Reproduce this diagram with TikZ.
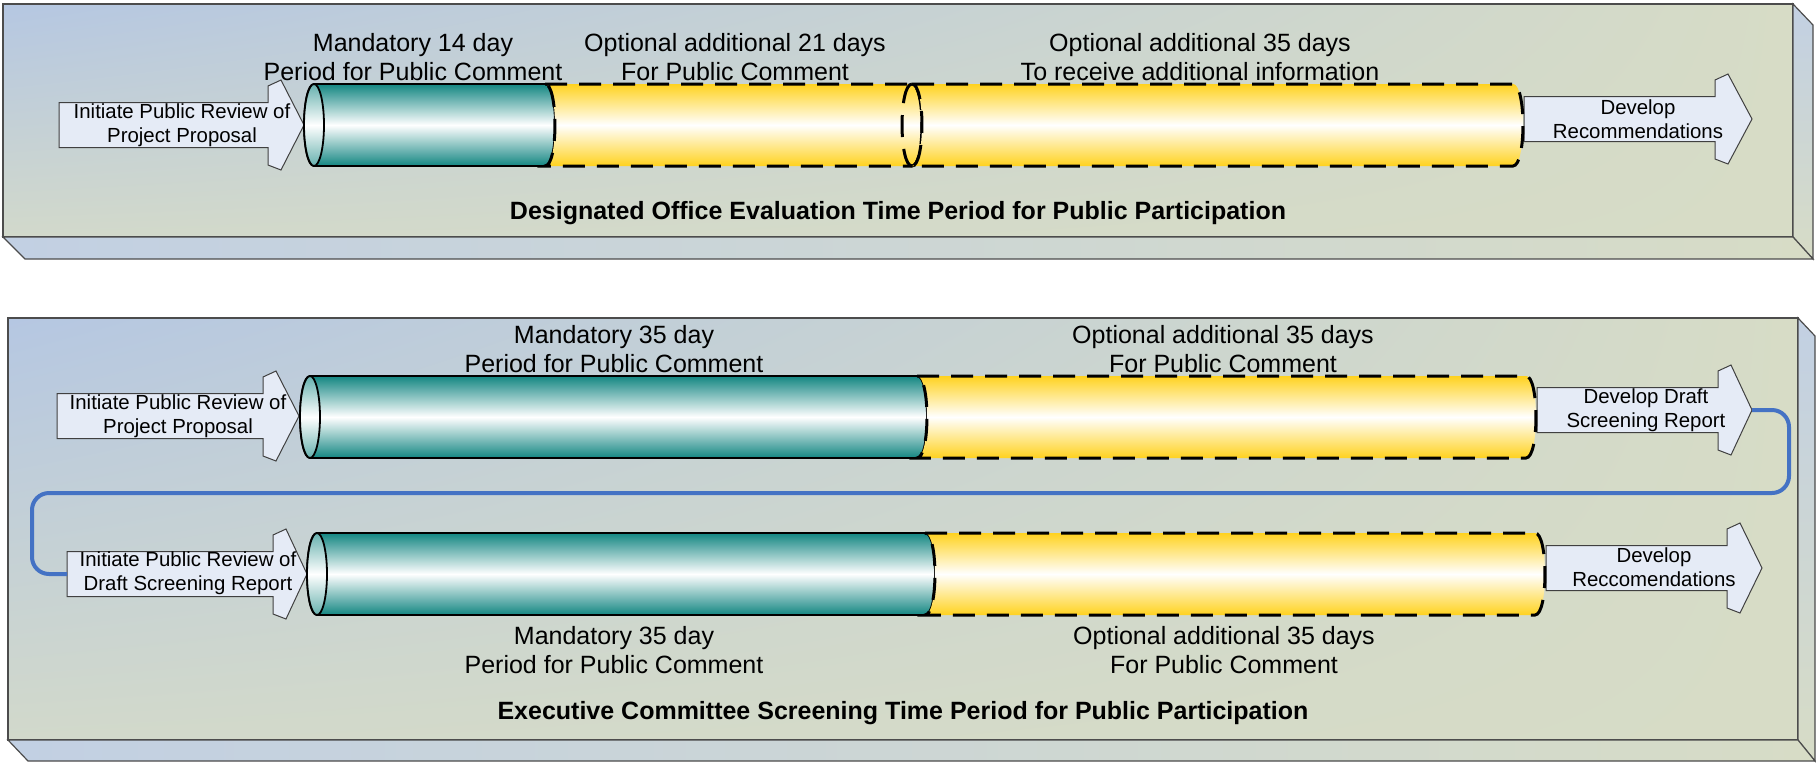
\documentclass[tikz,border=0pt]{standalone}
\usepackage{fontspec}
\setmainfont{Liberation Sans}
\usetikzlibrary{positioning,shadings}

\definecolor{tealdark}{HTML}{138682}
\definecolor{gold}{HTML}{FFD21F}
\definecolor{arrowfill}{HTML}{E5EBF6}
\definecolor{linkblue}{HTML}{4472C4}
\definecolor{panelblue}{HTML}{B5C7E2}
\definecolor{panelsand}{HTML}{D7DCC6}
\definecolor{panelmid}{HTML}{D2D9CB}
\definecolor{sideblue}{HTML}{C2D0E3}

\tikzset{
  panelline/.style={draw=black!70, line width=0.6pt},
  arrowbox/.style={draw=black!75, line width=0.5pt, fill=arrowfill},
  arrowtext/.style={align=center, font=\fontsize{10.2}{12}\selectfont, inner sep=0pt},
  bigtext/.style={align=center, font=\fontsize{12.5}{14.5}\selectfont, inner sep=0pt},
  titletext/.style={font=\fontsize{12.5}{14.5}\selectfont\bfseries, inner sep=0pt},
  tealbody/.style={draw=black, line width=0.9pt, top color=tealdark, bottom color=tealdark, middle color=white},
  tealface/.style={draw=black, line width=0.9pt, top color=tealdark!65!white, bottom color=tealdark!65!white, middle color=white},
  goldline/.style={draw=black, line width=1.5pt, dash pattern=on 11pt off 6pt},
  goldbody/.style={goldline, top color=gold, bottom color=gold, middle color=white},
  link/.style={draw=linkblue, line width=2pt, rounded corners=8.5pt},
}

% tube pieces: left x, right x, centre y
\newcommand{\tealseg}[3]{%
  \path[tealbody] (#1,#3-41) -- (#2,#3-41)
    .. controls (#2+13.3,#3-41) and (#2+13.3,#3+41) .. (#2,#3+41)
    -- (#1,#3+41) .. controls (#1-13.3,#3+41) and (#1-13.3,#3-41) .. (#1,#3-41) -- cycle;
  \path[tealface] (#1,#3) ellipse [x radius=5pt, y radius=20.5pt];
}
\newcommand{\goldseg}[3]{%
  \path[goldbody] (#1,#3-41) -- (#2,#3-41)
    .. controls (#2+13.3,#3-41) and (#2+13.3,#3+41) .. (#2,#3+41)
    -- (#1,#3+41) .. controls (#1+13.3,#3+41) and (#1+13.3,#3-41) .. (#1,#3-41) -- cycle;
}
% block arrow: name, tail x, head x, tip x, centre y
\newcommand{\flowarrow}[5]{%
  \draw[arrowbox] (#2,#5-22.5) -- (#3,#5-22.5) -- (#3,#5-39) -- (#3+13,#5-45)
    -- (#4,#5) -- (#3+13,#5+45) -- (#3,#5+40) -- (#3,#5+22.5) -- (#2,#5+22.5) -- cycle;
  \coordinate (#1-tail) at (#2,#5);
  \coordinate (#1-tip) at (#4,#5);
}

\begin{document}
\begin{tikzpicture}[x=0.5pt, y=-0.5pt]
  \useasboundingbox (0,0) rectangle (1816,762);

  % designated office panel
  \shade[upper left=panelblue, upper right=panelsand, lower left=panelmid, lower right=panelsand] (3,4) rectangle (1793,237);
  \draw[panelline] (3,4) rectangle (1793,237);
  \draw[panelline, top color=sideblue, bottom color=panelsand] (1793,4) -- (1813,25) -- (1813,259) -- (1793,237) -- cycle;
  \draw[panelline, left color=sideblue, right color=panelsand] (3,237) -- (1793,237) -- (1813,259) -- (25,259) -- cycle;

  \flowarrow{initA}{59}{268}{304}{125}
  \flowarrow{devA}{1524}{1715}{1752}{119}
  \node[arrowtext] (initAtext) at (182,125) {Initiate Public Review of\\Project Proposal};
  \node[arrowtext] (devAtext) at (1638,119) {Develop\\Recommendations};

  \tealseg{314}{545}{125}
  \goldseg{545}{912}{125}
  \goldseg{912}{1513}{125}
  \draw[goldline] (912,84) .. controls (898.7,84) and (898.7,166) .. (912,166);

  \node[bigtext] (mandA) at (413,57) {Mandatory 14 day\\Period for Public Comment};
  \node[bigtext] (optA) at (735,57) {Optional additional 21 days\\For Public Comment};
  \node[bigtext] (optB) at (1200,57) {Optional additional 35 days\\To receive additional information};
  \node[titletext] (titleA) at (898,213) {Designated Office Evaluation Time Period for Public Participation};

  % executive committee panel
  \shade[upper left=panelblue, upper right=panelsand, lower left=panelmid, lower right=panelsand] (8,318) rectangle (1798,740);
  \draw[panelline] (8,318) rectangle (1798,740);
  \draw[panelline, top color=sideblue, bottom color=panelsand] (1798,318) -- (1815,336) -- (1815,761) -- (1798,740) -- cycle;
  \draw[panelline, left color=sideblue, right color=panelsand] (8,740) -- (1798,740) -- (1815,761) -- (28,761) -- cycle;

  \flowarrow{initB}{57}{263}{299}{416}
  \flowarrow{draft}{1537}{1718}{1752}{410}
  \flowarrow{initC}{67}{273}{307}{574}
  \flowarrow{devC}{1546}{1727}{1762}{568}

  \draw[link] (draft-tip) -| (1789,493) -| (32,574) -- (initC-tail);

  \node[arrowtext] (initBtext) at (178,416) {Initiate Public Review of\\Project Proposal};
  \node[arrowtext] (drafttext) at (1646,410) {Develop Draft\\Screening Report};
  \node[arrowtext] (initCtext) at (188,573) {Initiate Public Review of\\Draft Screening Report};
  \node[arrowtext] (devCtext) at (1654,567) {Develop\\Reccomendations};

  \tealseg{310}{917}{417}
  \goldseg{917}{1526}{417}
  \tealseg{317}{925}{574}
  \goldseg{925}{1535}{574}

  \node[bigtext] (mandB) at (614,349) {Mandatory 35 day\\Period for Public Comment};
  \node[bigtext] (optC) at (1223,349) {Optional additional 35 days\\For Public Comment};
  \node[bigtext] (mandC) at (614,650) {Mandatory 35 day\\Period for Public Comment};
  \node[bigtext] (optD) at (1224,650) {Optional additional 35 days\\For Public Comment};
  \node[titletext] (titleB) at (903,713) {Executive Committee Screening Time Period for Public Participation};
\end{tikzpicture}
\end{document}
